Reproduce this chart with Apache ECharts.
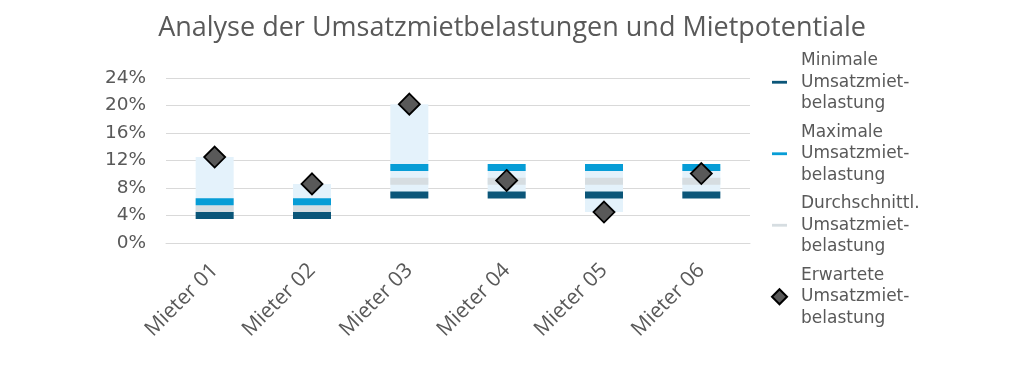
<!DOCTYPE html>
<html>
<head>
<meta charset="utf-8">
<script src="https://cdn.jsdelivr.net/npm/echarts@6/dist/echarts.min.js"></script>
<style>html,body{margin:0;padding:0;background:#fff}#c{width:1024px;height:369px}</style>
</head>
<body>
<div id="c"></div>
<script>
const categories = ['Mieter 01', 'Mieter 02', 'Mieter 03', 'Mieter 04', 'Mieter 05', 'Mieter 06'];
const minVals = [4, 4, 7, 7, 7, 7];
const maxVals = [6, 6, 11, 11, 11, 11];
const avgVals = [5, 5, 9, 9, 9, 9];
const expectedVals = [12.5, 8.6, 20.2, 9.1, 4.5, 10.1];
const bandLow = [4, 4, 7, 7, 4.5, 7];
const bandHigh = [12.5, 8.6, 20.2, 11, 11, 11];
const yTicks = [0, 4, 8, 12, 16, 20, 24];

const names = {
  min: 'Minimale Umsatzmietbelastung',
  max: 'Maximale Umsatzmietbelastung',
  avg: 'Durchschnittl. Umsatzmietbelastung',
  exp: 'Erwartete Umsatzmietbelastung'
};
const legendLabels = {};
legendLabels[names.min] = 'Minimale\nUmsatzmiet-\nbelastung';
legendLabels[names.max] = 'Maximale\nUmsatzmiet-\nbelastung';
legendLabels[names.avg] = 'Durchschnittl.\nUmsatzmiet-\nbelastung';
legendLabels[names.exp] = 'Erwartete\nUmsatzmiet-\nbelastung';

const C_MIN = '#0B5679', C_MAX = '#079DD6', C_AVG = '#D6DDE1', C_BAND = '#E4F2FB';
const dash = 'path://M0,0h16v3h-16z';
const markSize = [38, 7];

const chart = echarts.init(document.getElementById('c'));
chart.setOption({
  animation: false,
  title: {
    text: 'Analyse der Umsatzmietbelastungen und Mietpotentiale',
    left: 'center', top: 10,
    textStyle: { fontFamily: 'Open Sans', fontSize: 27, fontWeight: 'normal', color: '#595959' }
  },
  legend: {
    orient: 'vertical', left: 766, top: 45, itemGap: 7,
    itemWidth: 15, itemHeight: 15,
    data: [
      { name: names.min, icon: dash },
      { name: names.max, icon: dash },
      { name: names.avg, icon: dash },
      { name: names.exp, icon: 'diamond' }
    ],
    formatter: n => legendLabels[n],
    textStyle: { fontFamily: 'DejaVu Sans', fontSize: 17, lineHeight: 21.5, color: '#595959', padding: [0, 0, 0, 9] }
  },
  grid: { left: 166, right: 274, top: 78, bottom: 126 },
  xAxis: {
    type: 'category', data: categories,
    axisLine: { show: true, lineStyle: { color: '#D9D9D9' } },
    axisTick: { show: false },
    axisLabel: { rotate: 45, margin: 24, fontFamily: 'Open Sans', fontSize: 21, color: '#595959' }
  },
  yAxis: {
    type: 'value', min: yTicks[0], max: yTicks[yTicks.length - 1], interval: 4,
    axisLine: { show: false }, axisTick: { show: false },
    splitLine: { lineStyle: { color: '#D9D9D9', width: 1 } },
    axisLabel: { formatter: '{value}%', margin: 20, fontFamily: 'DejaVu Sans', fontSize: 18.5, color: '#595959' }
  },
  series: [
    { type: 'bar', stack: 'band', data: bandLow, barWidth: 38, itemStyle: { color: 'transparent' }, silent: true, z: 1 },
    { type: 'bar', stack: 'band', data: bandHigh.map((h, i) => h - bandLow[i]), barWidth: 38, itemStyle: { color: C_BAND }, silent: true, z: 1 },
    { name: names.avg, type: 'scatter', data: avgVals, symbol: 'rect', symbolSize: markSize, itemStyle: { color: C_AVG, opacity: 1 }, z: 3 },
    { name: names.min, type: 'scatter', data: minVals, symbol: 'rect', symbolSize: markSize, itemStyle: { color: C_MIN, opacity: 1 }, z: 4 },
    { name: names.max, type: 'scatter', data: maxVals, symbol: 'rect', symbolSize: markSize, itemStyle: { color: C_MAX, opacity: 1 }, z: 4 },
    { name: names.exp, type: 'scatter', data: expectedVals, symbol: 'diamond', symbolSize: [21, 21],
      itemStyle: { color: '#595959', borderColor: '#000', borderWidth: 1.8, opacity: 1 }, z: 5 }
  ]
});
</script>
</body>
</html>
